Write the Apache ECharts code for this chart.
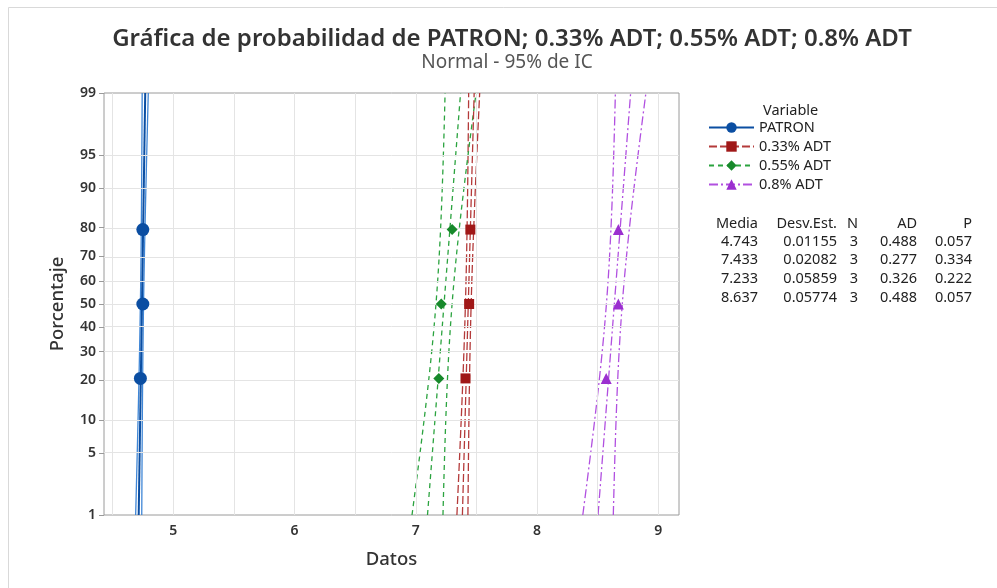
<!DOCTYPE html>
<html>
<head>
<meta charset="utf-8">
<title>Gráfica de probabilidad</title>
<script src="https://cdn.jsdelivr.net/npm/echarts@6.0.0/dist/echarts.min.js"></script>
<style>
  html, body { margin: 0; padding: 0; background: #fff; }
  #grafica { width: 997px; height: 588px; }
</style>
</head>
<body>
<div id="grafica"></div>
<script>
// datos
var variables = ['PATRON', '0.33% ADT', '0.55% ADT', '0.8% ADT'];
var datosPatron = [4.73, 4.75, 4.75];
var datos033 = [7.41, 7.44, 7.45];
var datos055 = [7.19, 7.21, 7.30];
var datos08 = [8.57, 8.67, 8.67];
var posiciones = [20.6, 50, 79.4]; // porcentaje (rango mediano)
var medias = [4.743, 7.433, 7.233, 8.637];
var desvEst = [0.01155, 0.02082, 0.05859, 0.05774];
var nObs = [3, 3, 3, 3];
var valoresAD = [0.488, 0.277, 0.326, 0.488];
var valoresP = [0.057, 0.334, 0.222, 0.057];
var ticksPorcentaje = [1, 5, 10, 20, 30, 40, 50, 60, 70, 80, 90, 95, 99];
var ticksDatos = [5, 6, 7, 8, 9];
var lineasDatos = [4.5, 5, 5.5, 6, 6.5, 7, 7.5, 8, 8.5, 9];

var colorMarca = ['#0b4ea2', '#a01818', '#17892b', '#9b2fd0'];
var colorLinea = ['#3f86d6', '#b43a3a', '#2ba33f', '#b150e0'];
var simbolos = ['circle', 'rect', 'diamond', 'triangle'];
var tamSimbolo = [13, 10, 11, 11];
var tipoLinea = ['solid', [8, 3], [5, 4], [9, 3, 2, 3]];
var fuente = '"Noto Sans", "DejaVu Sans", sans-serif';

// cuantil normal inverso (Acklam)
function probit(p) {
    var a = [-3.969683028665376e+01, 2.209460984245205e+02, -2.759285104469687e+02, 1.383577518672690e+02, -3.066479806614716e+01, 2.506628277459239e+00];
    var b = [-5.447609879822406e+01, 1.615858368580409e+02, -1.556989798598866e+02, 6.680131188771972e+01, -1.328068155692290e+01];
    var c = [-7.784894002430293e-03, -3.223964580411365e-01, -2.400758277161838e+00, -2.549732539343734e+00, 4.374664141464968e+00, 2.938163982698783e+00];
    var d = [7.784695709041462e-03, 3.224671290700398e-01, 2.445134137142996e+00, 3.754408661907416e+00];
    var pl = 0.02425, q, r;
    if (p < pl) {
        q = Math.sqrt(-2 * Math.log(p));
        return (((((c[0]*q+c[1])*q+c[2])*q+c[3])*q+c[4])*q+c[5]) / ((((d[0]*q+d[1])*q+d[2])*q+d[3])*q+1);
    }
    if (p > 1 - pl) {
        q = Math.sqrt(-2 * Math.log(1 - p));
        return -(((((c[0]*q+c[1])*q+c[2])*q+c[3])*q+c[4])*q+c[5]) / ((((d[0]*q+d[1])*q+d[2])*q+d[3])*q+1);
    }
    q = p - 0.5; r = q * q;
    return (((((a[0]*r+a[1])*r+a[2])*r+a[3])*r+a[4])*r+a[5])*q / (((((b[0]*r+b[1])*r+b[2])*r+b[3])*r+b[4])*r+1);
}

var zMin = probit(0.01);
var zMax = probit(0.99);
var zTicks = ticksPorcentaje.map(function(p) { return probit(p / 100); });
var datosVar = [datosPatron, datos033, datos055, datos08];

var zs = [];
for (var k = 0; k <= 30; k++) zs.push(zMin + (zMax - zMin) * k / 30);

// lineas de cuadricula
var series = [{
    type: 'line',
    data: [],
    z: 1,
    silent: true,
    markLine: {
        silent: true,
        symbol: 'none',
        animation: false,
        label: { show: false },
        lineStyle: { color: '#e4e4e4', width: 1, type: 'solid' },
        data: zTicks.map(function(z) { return { yAxis: z }; })
            .concat(lineasDatos.map(function(x) { return { xAxis: x }; }))
    }
}];

variables.forEach(function(nombre, i) {
    var m = medias[i], s = desvEst[i], n = nObs[i];
    var estilo = { color: colorLinea[i], width: 1.3, type: tipoLinea[i] };
    // linea ajustada
    series.push({
        name: nombre,
        type: 'line',
        data: [[m + s * zMin, zMin], [m + s * zMax, zMax]],
        symbol: simbolos[i],
        showSymbol: false,
        itemStyle: { color: colorMarca[i] },
        lineStyle: i === 0 ? { color: colorMarca[i], width: 2, type: 'solid' } : estilo,
        z: 3,
        silent: true
    });
    // intervalos de confianza 95%
    [-1, 1].forEach(function(signo) {
        series.push({
            type: 'line',
            data: zs.map(function(z) {
                return [m + s * z + signo * 1.96 * s * Math.sqrt(1 / n + z * z / (2 * n)), z];
            }),
            symbol: 'none',
            lineStyle: estilo,
            z: 2,
            silent: true
        });
    });
    // puntos
    series.push({
        type: 'scatter',
        data: datosVar[i].map(function(x, j) { return [x, probit(posiciones[j] / 100)]; }),
        symbol: simbolos[i],
        symbolSize: tamSimbolo[i],
        itemStyle: { color: colorMarca[i], opacity: 1 },
        z: 5
    });
});

// tabla de estadisticos
var colX = [758, 837, 858, 917, 972];
var encabezados = ['Media', 'Desv.Est.', 'N', 'AD', 'P'];
var tabla = [];
encabezados.forEach(function(t, j) {
    tabla.push({ type: 'text', x: colX[j], y: 224,
        style: { text: t, fill: '#222', font: '14.5px ' + fuente, textAlign: 'right', textVerticalAlign: 'middle' } });
});
variables.forEach(function(v, i) {
    var fila = [medias[i].toFixed(3), desvEst[i].toFixed(5), String(nObs[i]), valoresAD[i].toFixed(3), valoresP[i].toFixed(3)];
    fila.forEach(function(t, j) {
        tabla.push({ type: 'text', x: colX[j], y: 241.5 + i * 18.8,
            style: { text: t, fill: '#222', font: '14.5px ' + fuente, textAlign: 'right', textVerticalAlign: 'middle' } });
    });
});

var myChart = echarts.init(document.getElementById('grafica'));
var option = {
    animation: false,
    backgroundColor: '#fff',
    textStyle: { fontFamily: fuente },
    title: [{
        text: 'Gráfica de probabilidad de PATRON; 0.33% ADT; 0.55% ADT; 0.8% ADT',
        left: 512, top: 24, textAlign: 'center', padding: 0,
        textStyle: { fontSize: 24, fontWeight: 600, color: '#333', lineHeight: 30 }
    }, {
        text: 'Normal - 95% de IC',
        left: 507, top: 52, textAlign: 'center', padding: 0,
        textStyle: { fontSize: 19, fontWeight: 400, color: '#555', lineHeight: 22 }
    }],
    legend: {
        data: variables,
        orient: 'vertical',
        left: 708, top: 120,
        itemWidth: 45, itemHeight: 13, itemGap: 4,
        padding: 0,
        textStyle: { fontSize: 14.5, color: '#222' }
    },
    grid: {
        left: 104, right: 318, top: 93, bottom: 73,
        show: true, borderColor: '#9a9a9a', borderWidth: 1
    },
    xAxis: {
        type: 'value',
        min: 4.43, max: 9.17,
        name: 'Datos', nameLocation: 'middle', nameGap: 35,
        nameTextStyle: { fontSize: 18.5, fontWeight: 500, color: '#333' },
        axisLine: { show: false },
        splitLine: { show: false },
        axisTick: { show: true, length: 5, lineStyle: { color: '#9a9a9a' }, customValues: ticksDatos },
        axisLabel: { customValues: ticksDatos, fontSize: 14, fontWeight: 600, color: '#333', margin: 9 }
    },
    yAxis: {
        type: 'value',
        min: zMin, max: zMax,
        name: 'Porcentaje', nameLocation: 'middle', nameGap: 37,
        nameTextStyle: { fontSize: 18.5, fontWeight: 500, color: '#333' },
        axisLine: { show: false },
        splitLine: { show: false },
        axisTick: { show: true, length: 5, lineStyle: { color: '#9a9a9a' }, customValues: zTicks },
        axisLabel: {
            customValues: zTicks, fontSize: 14, fontWeight: 600, color: '#333', margin: 8,
            formatter: function(val) {
                var mejor = 0;
                zTicks.forEach(function(z, j) {
                    if (Math.abs(z - val) < Math.abs(zTicks[mejor] - val)) mejor = j;
                });
                return String(ticksPorcentaje[mejor]);
            }
        }
    },
    graphic: [{
        type: 'rect', shape: { x: 8.5, y: 7.5, width: 1100, height: 700 },
        style: { fill: 'none', stroke: '#d9d9d9', lineWidth: 1 }, silent: true, z: -1
    }, {
        type: 'text', x: 763, y: 111,
        style: { text: 'Variable', fill: '#222', font: '14.5px ' + fuente, textVerticalAlign: 'middle' }
    }].concat(tabla),
    series: series
};
myChart.setOption(option);
</script>
</body>
</html>
